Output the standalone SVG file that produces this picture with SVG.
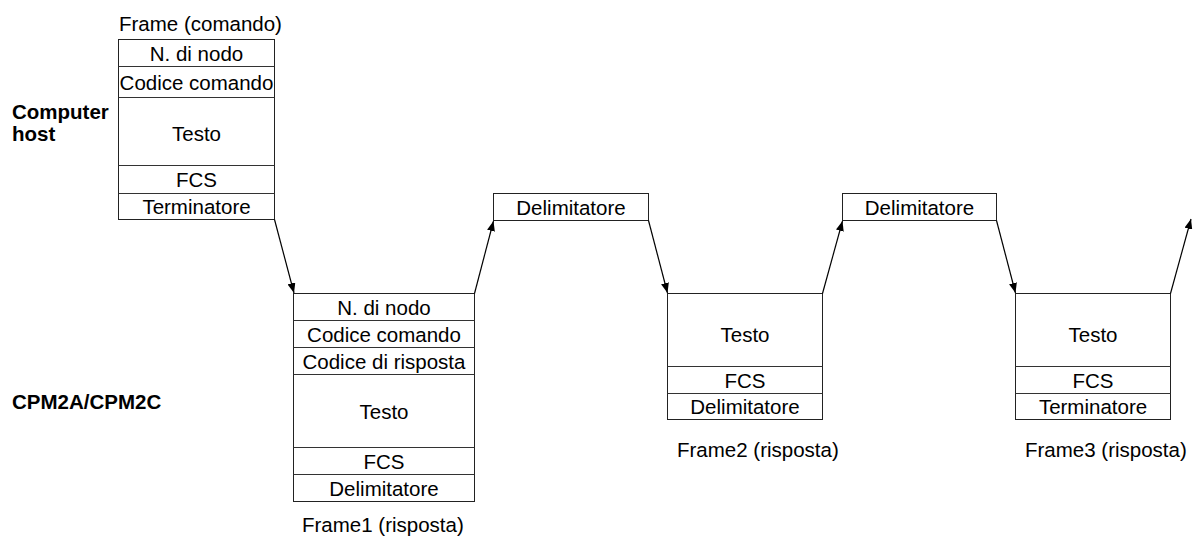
<svg xmlns="http://www.w3.org/2000/svg" width="1195" height="540" viewBox="0 0 1195 540">
<defs>
<style>
text{font-family:"Liberation Sans",Arial,sans-serif;font-size:20.5px;fill:#000}
.b{font-weight:bold}
.c{text-anchor:middle}
.box{fill:#fff;stroke:#222;stroke-width:1}
.sep{stroke:#333;stroke-width:1;fill:none}
.conn{stroke:#000;stroke-width:1.2;fill:none;marker-end:url(#ah)}
</style>
<marker id="ah" viewBox="0 0 10 8" refX="10" refY="4" markerWidth="10" markerHeight="8" markerUnits="userSpaceOnUse" orient="auto">
<path d="M0,0 L10,4 L0,8 Z" fill="#000"/>
</marker>
</defs>
<rect width="1195" height="540" fill="#fff"/>

<text class="b" x="12" y="119">Computer</text>
<text class="b" x="12" y="141">host</text>
<text class="b" x="12" y="409">CPM2A/CPM2C</text>

<g id="frame-comando">
<text x="119" y="31">Frame (comando)</text>
<rect class="box" x="118.5" y="39.5" width="156" height="180"/>
<path class="sep" d="M118.5,66.5H274.5M118.5,97.5H274.5M118.5,165.5H274.5M118.5,193.5H274.5"/>
<text class="c" x="196.5" y="61">N. di nodo</text>
<text class="c" x="196.5" y="90">Codice comando</text>
<text class="c" x="196.5" y="141">Testo</text>
<text class="c" x="196.5" y="187">FCS</text>
<text class="c" x="196.5" y="214">Terminatore</text>
</g>

<g id="frame1">
<rect class="box" x="293.5" y="293.5" width="181" height="208"/>
<path class="sep" d="M293.5,320.5H474.5M293.5,347.5H474.5M293.5,374.5H474.5M293.5,447.5H474.5M293.5,474.5H474.5"/>
<text class="c" x="384" y="315">N. di nodo</text>
<text class="c" x="384" y="342">Codice comando</text>
<text class="c" x="384" y="369">Codice di risposta</text>
<text class="c" x="384" y="419">Testo</text>
<text class="c" x="384" y="469">FCS</text>
<text class="c" x="384" y="496">Delimitatore</text>
<text x="302" y="532">Frame1 (risposta)</text>
</g>

<g id="delim1">
<rect class="box" x="493.5" y="193.5" width="155" height="27"/>
<text class="c" x="571" y="215">Delimitatore</text>
</g>

<g id="frame2">
<rect class="box" x="667.5" y="293.5" width="155" height="126"/>
<path class="sep" d="M667.5,366.5H822.5M667.5,393.5H822.5"/>
<text class="c" x="745" y="342">Testo</text>
<text class="c" x="745" y="388">FCS</text>
<text class="c" x="745" y="414">Delimitatore</text>
<text x="677" y="457">Frame2 (risposta)</text>
</g>

<g id="delim2">
<rect class="box" x="842.5" y="193.5" width="154" height="27"/>
<text class="c" x="919.5" y="215">Delimitatore</text>
</g>

<g id="frame3">
<rect class="box" x="1015.5" y="293.5" width="155" height="126"/>
<path class="sep" d="M1015.5,366.5H1170.5M1015.5,393.5H1170.5"/>
<text class="c" x="1093" y="342">Testo</text>
<text class="c" x="1093" y="388">FCS</text>
<text class="c" x="1093" y="414">Terminatore</text>
<text x="1025" y="457">Frame3 (risposta)</text>
</g>

<g id="connectors">
<line class="conn" x1="274.5" y1="219.5" x2="294" y2="293"/>
<line class="conn" x1="474.5" y1="293.5" x2="493.5" y2="221"/>
<line class="conn" x1="648.5" y1="220.5" x2="667.5" y2="293"/>
<line class="conn" x1="822.5" y1="293.5" x2="842.5" y2="221"/>
<line class="conn" x1="996.5" y1="220.5" x2="1015.5" y2="293"/>
<line class="conn" x1="1170.5" y1="293.5" x2="1191" y2="219"/>
</g>
</svg>
